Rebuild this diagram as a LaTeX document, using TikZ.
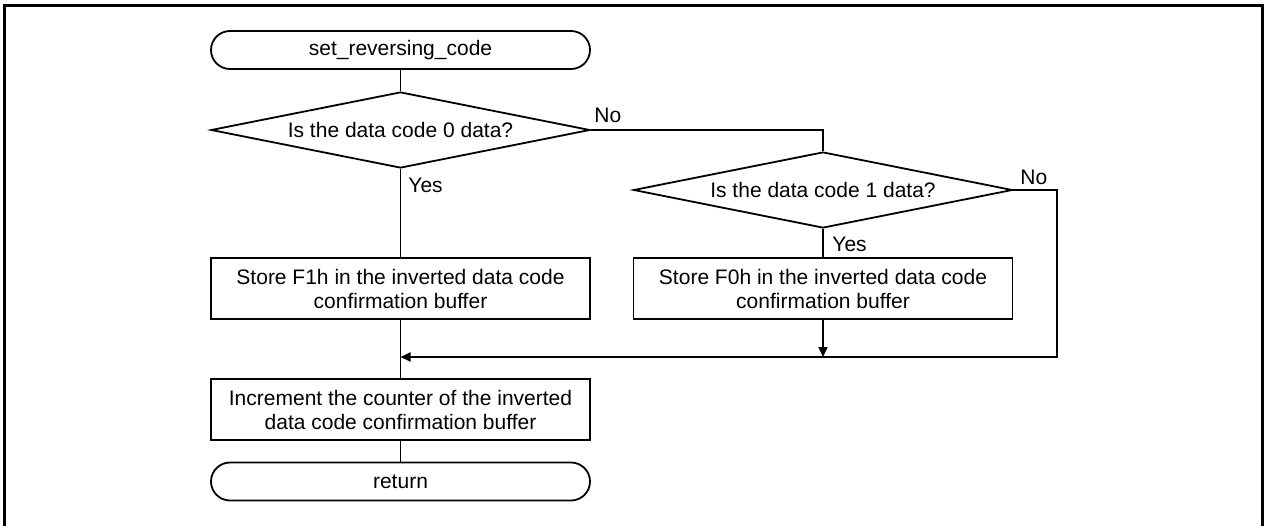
\documentclass[tikz,border=0pt]{standalone}
\usepackage{fontspec}
\setmainfont{Liberation Sans}
\usetikzlibrary{shapes.geometric,arrows.meta}
\begin{document}
\begin{tikzpicture}[x=0.5pt,y=-0.5pt,
  every node/.style={font=\fontsize{10.5}{12}\selectfont},
  line/.style={line width=0.9pt},
  terminal/.style={draw,line width=0.9pt,rectangle,rounded corners=9.5pt,
    minimum width=189.5pt,minimum height=19pt,inner sep=0pt},
  decision/.style={draw,line width=0.9pt,diamond,
    minimum width=189.5pt,minimum height=38pt,inner sep=0pt},
  process/.style={draw,line width=0.9pt,rectangle,align=center,
    minimum width=189.5pt,minimum height=30.5pt,inner sep=0pt},
  lbl/.style={anchor=west,inner sep=0pt},
  arr/.style={line width=0.9pt,-{Triangle[length=5pt,width=4.5pt]}}]
\useasboundingbox (0,0) rectangle (1264,525);
% outer frame (open at the bottom)
\draw[line width=1.5pt] (4.5,530) -- (4.5,5.5) -- (1262,5.5) -- (1262,530);

\node[terminal] (start) at (400.5,50) {set\_reversing\_code};
\node[decision] (d1) at (400.5,130) {\makebox[0pt]{Is the data code 0 data?}};
\node[decision] (d2) at (823,190) {\makebox[0pt]{Is the data code 1 data?}};
\node[process] (b1) at (400.5,288.5) {Store F1h in the inverted data code\\confirmation buffer};
\node[process] (b2) at (823,288.5) {Store F0h in the inverted data code\\confirmation buffer};
\node[process] (b3) at (400.5,409.5) {Increment the counter of the inverted\\data code confirmation buffer};
\node[terminal] (end) at (400.5,481.5) {return};

\coordinate (merge) at (400.5,357);
\coordinate (corner) at (1057,357);

\draw[line] (start) -- (d1);
\draw[line] (d1.east) -| (d2.north);
\draw[line] (d1.south) -- (b1.north);
\draw[line] (d2.south) -- (b2.north);
\draw[arr] (d2.east) -| (corner) -- (merge);
\draw[arr] (b2.south) -- (b2.south |- merge);
\draw[line] (b1.south) -- (b3.north);
\draw[line] (b3) -- (end);

\node[lbl] (no1) at (594,115) {No};
\node[lbl] (yes1) at (408,185) {Yes};
\node[lbl] (no2) at (1020,177) {No};
\node[lbl] (yes2) at (832,244) {Yes};
\end{tikzpicture}
\end{document}
